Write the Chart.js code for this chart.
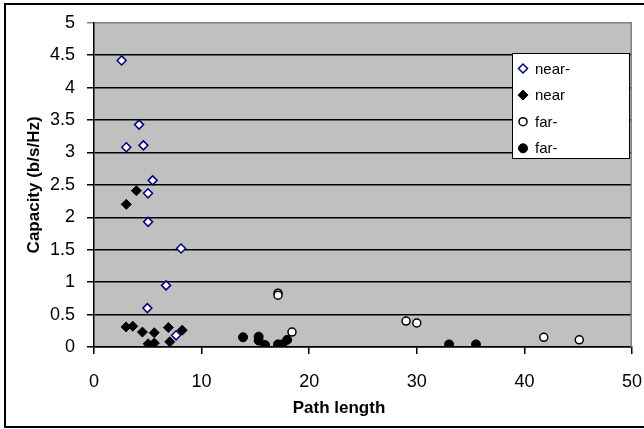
<!DOCTYPE html>
<html>
<head>
<meta charset="utf-8">
<script src="https://cdn.jsdelivr.net/npm/chart.js@4.4.1/dist/chart.umd.min.js"></script>
<style>
  html, body { margin: 0; padding: 0; background: #fff; }
  #wrap { width: 644px; height: 429px; }
</style>
</head>
<body>
<div id="wrap"><canvas id="capChart" width="644" height="429"></canvas></div>
<script>
// ------------------------- DATA -------------------------
const seriesLabels = ['near-', 'near', 'far-', 'far-'];

const nearMinusX = [2.57, 3.0, 4.19, 4.59, 5.45, 5.02, 5.03, 8.09, 6.70, 4.96, 7.63];
const nearMinusY = [4.42, 3.08, 3.43, 3.11, 2.57, 2.37, 1.93, 1.52, 0.95, 0.60, 0.18];

const nearX = [3.94, 3.0, 2.98, 3.6, 4.5, 5.6, 5.03, 5.61, 6.91, 7.04, 8.2];
const nearY = [2.41, 2.20, 0.31, 0.32, 0.23, 0.22, 0.05, 0.06, 0.30, 0.08, 0.26];

const farOpenX = [17.1, 17.1, 18.4, 29.0, 30.0, 41.8, 45.1];
const farOpenY = [0.83, 0.80, 0.23, 0.40, 0.37, 0.15, 0.11];

const farFillX = [13.85, 15.3, 15.3, 15.9, 17.1, 17.5, 17.95, 33.0, 35.5];
const farFillY = [0.15, 0.16, 0.10, 0.03, 0.04, 0.04, 0.11, 0.04, 0.04];

const xTicksMax = 50, xStep = 10;
const yTicksMax = 5, yStep = 0.5;

const xTitle = 'Path length';
const yTitle = 'Capacity (b/s/Hz)';

function pts(xs, ys) { return xs.map((x, i) => ({ x, y: ys[i] })); }

// ------------------------- HELPERS -------------------------
function drawMarker(ctx, ds, x, y) {
  const r = ds.pointRadius;
  ctx.beginPath();
  if (ds.pointStyle === 'rectRot') {
    ctx.moveTo(x, y - r); ctx.lineTo(x + r, y); ctx.lineTo(x, y + r); ctx.lineTo(x - r, y);
    ctx.closePath();
  } else {
    ctx.arc(x, y, r, 0, Math.PI * 2);
  }
  ctx.fillStyle = ds.backgroundColor;
  ctx.fill();
  ctx.lineWidth = ds.borderWidth;
  ctx.strokeStyle = ds.borderColor;
  ctx.stroke();
}

// ------------------------- PLUGINS -------------------------
const plotArea = {
  id: 'plotArea',
  beforeDraw(chart) {
    const { ctx, chartArea: a } = chart;
    ctx.save();
    ctx.fillStyle = '#c0c0c0';
    ctx.fillRect(a.left, a.top, a.right - a.left, a.bottom - a.top);
    ctx.restore();
  },
  afterDraw(chart) {
    const { ctx, chartArea: a } = chart;
    ctx.save();
    ctx.setLineDash([]);

    // right edge of the plot
    ctx.strokeStyle = '#808080';
    ctx.lineWidth = 1.5;
    ctx.beginPath();
    ctx.moveTo(a.right - 0.75, a.top);
    ctx.lineTo(a.right - 0.75, a.bottom);
    ctx.stroke();

    // outer chart frame
    ctx.strokeStyle = '#000';
    ctx.lineWidth = 2;
    ctx.strokeRect(5, 4, 660, 423);

    // legend box
    ctx.fillStyle = '#fff';
    ctx.fillRect(512, 53, 117, 105);
    ctx.lineWidth = 1;
    ctx.strokeStyle = '#000';
    ctx.strokeRect(512.5, 53.5, 117, 105);

    ctx.font = '15px "Liberation Sans", Arial, sans-serif';
    ctx.textAlign = 'left';
    ctx.textBaseline = 'middle';
    chart.data.datasets.forEach((ds, i) => {
      const y = 68.5 + i * 26.6;
      drawMarker(ctx, ds, 523, y);
      ctx.fillStyle = '#000';
      ctx.fillText(ds.label, 535, y + 1);
    });

    // x axis title, excel puts it a little left of the plot centre
    ctx.font = 'bold 17px "Liberation Sans", Arial, sans-serif';
    ctx.textAlign = 'center';
    ctx.fillText(xTitle, 339, 408);
    ctx.restore();
  }
};

// ------------------------- CHART -------------------------
const font = { family: '"Liberation Sans", Arial, sans-serif', size: 18 };

new Chart(document.getElementById('capChart').getContext('2d'), {
  type: 'scatter',
  data: {
    datasets: [
      { label: seriesLabels[0], data: pts(nearMinusX, nearMinusY), pointStyle: 'rectRot', pointRadius: 4.5,
        backgroundColor: '#ffffff', borderColor: '#000080', borderWidth: 1.5 },
      { label: seriesLabels[1], data: pts(nearX, nearY), pointStyle: 'rectRot', pointRadius: 5,
        backgroundColor: '#000000', borderColor: '#000000', borderWidth: 1 },
      { label: seriesLabels[2], data: pts(farOpenX, farOpenY), pointStyle: 'circle', pointRadius: 4,
        backgroundColor: '#ffffff', borderColor: '#000000', borderWidth: 1.5 },
      { label: seriesLabels[3], data: pts(farFillX, farFillY), pointStyle: 'circle', pointRadius: 4.5,
        backgroundColor: '#000000', borderColor: '#000000', borderWidth: 1 }
    ]
  },
  options: {
    responsive: false,
    devicePixelRatio: 1,
    animation: false,
    layout: { padding: { left: 0, right: 12, top: 22, bottom: 0 } },
    plugins: { legend: { display: false }, tooltip: { enabled: false } },
    scales: {
      x: {
        type: 'linear', min: 0, max: xTicksMax,
        ticks: { stepSize: xStep, color: '#000', font, padding: 17, maxRotation: 0 },
        grid: { drawOnChartArea: false, color: '#000', lineWidth: 1.5, tickLength: 7 },
        border: { color: '#000', width: 1.5 },
        afterFit(s) { s.height = 82; s.paddingRight = 0; }
      },
      y: {
        type: 'linear', min: 0, max: yTicksMax,
        ticks: { stepSize: yStep, color: '#000', font, padding: 12,
          callback: v => String(+v.toFixed(1)) },
        grid: { color: c => (c.tick && c.tick.value === yTicksMax) ? '#808080' : '#000',
          lineWidth: 1.5, tickLength: 7 },
        border: { color: '#000', width: 1.5 },
        title: { display: true, text: yTitle, color: '#000',
          font: { family: '"Liberation Sans", Arial, sans-serif', size: 17, weight: 'bold' },
          padding: { top: 24 } },
        afterFit(s) { s.width = 94; }
      }
    }
  },
  plugins: [plotArea]
});
</script>
</body>
</html>
